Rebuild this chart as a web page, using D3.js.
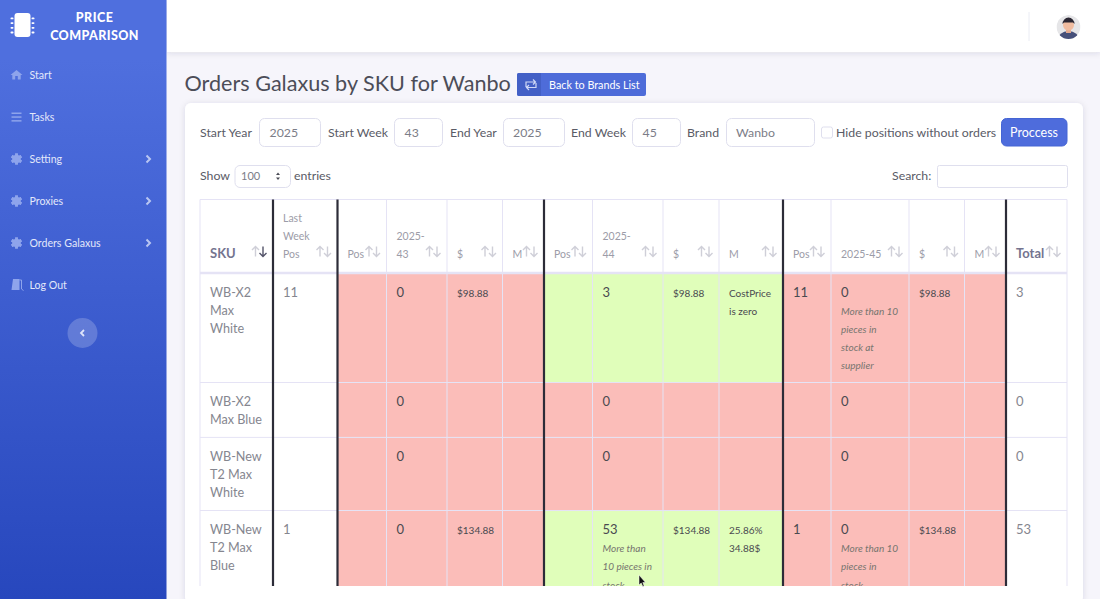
<!DOCTYPE html>
<html>
<head>
<meta charset="utf-8">
<title>Orders Galaxus by SKU for Wanbo</title>
<script src="https://cdn.jsdelivr.net/npm/d3@7"></script>
<style>
  html, body { margin: 0; padding: 0; background: #f6f5fb; overflow: hidden; }
  svg { display: block; font-family: Lato, "Open Sans", sans-serif; }
</style>
</head>
<body>
<svg id="page" width="1100" height="599"></svg>
<script>
// table data
const skuLines = [["WB-X2", "Max", "White"], ["WB-X2", "Max Blue"], ["WB-New", "T2 Max", "White"], ["WB-New", "T2 Max", "Blue"]]
const lastWeekPos = ["11", "", "", "1"]
const orders43 = ["0", "0", "0", "0"]
const price43 = ["$98.88", "", "", "$134.88"]
const orders44 = ["3", "0", "0", "53"]
const note44 = [[], [], [], ["More than", "10 pieces in", "stock"]]
const price44 = ["$98.88", "", "", "$134.88"]
const margin44 = [["CostPrice", "is zero"], [], [], ["25.86%", "34.88$"]]
const pos45 = ["11", "", "", "1"]
const orders45 = ["0", "0", "0", "0"]
const note45 = [["More than 10", "pieces in", "stock at", "supplier"], [], [], ["More than 10", "pieces in", "stock"]]
const price45 = ["$98.88", "", "", "$134.88"]
const totals = ["3", "0", "0", "53"]
const status43 = ["none", "none", "none", "none"]
const status44 = ["sold", "none", "none", "sold"]
const status45 = ["none", "none", "none", "none"]

const columnHeaders = [["SKU"], ["Last", "Week", "Pos"], ["Pos"], ["2025-", "43"], ["$"], ["M"], ["Pos"], ["2025-", "44"], ["$"], ["M"], ["Pos"], ["2025-45"], ["$"], ["M"], ["Total"]]
const columnWidths = [73, 64.5, 49, 60.5, 55.5, 41.5, 48.5, 70.5, 56, 64, 48, 78, 55.5, 41.5, 61]
const weekDividers = [1, 2, 6, 10, 14]
const menuItems = ["Start", "Tasks", "Setting", "Proxies", "Orders Galaxus", "Log Out"]
const menuIcons = ["home", "bars", "gear", "gear", "gear", "door"]
const menuHasArrow = [false, false, true, true, true, false]

const svg = d3.select("#page")
const defs = svg.append("defs")
const grad = defs.append("linearGradient").attr("id", "sideGrad").attr("x1", 0).attr("x2", 0).attr("y1", 0).attr("y2", 1)
grad.append("stop").attr("offset", "10%").attr("stop-color", "#4f6fde")
grad.append("stop").attr("offset", "100%").attr("stop-color", "#2747bd")
const shadow = defs.append("filter").attr("id", "soft").attr("x", "-5%").attr("y", "-20%").attr("width", "110%").attr("height", "150%")
shadow.append("feDropShadow").attr("dx", 0).attr("dy", 1).attr("stdDeviation", 3).attr("flood-color", "#3a3b45").attr("flood-opacity", 0.12)
defs.append("clipPath").attr("id", "tableClip").append("rect").attr("x", 190).attr("y", 190).attr("width", 885).attr("height", 396)

function label(g, x, y, txt, size, color, opts = {}) {
    return g.append("text")
        .attr("x", x).attr("y", y)
        .attr("font-size", size)
        .attr("fill", color)
        .attr("font-weight", opts.weight || 400)
        .attr("font-style", opts.italic ? "italic" : "normal")
        .attr("text-anchor", opts.anchor || "start")
        .attr("letter-spacing", opts.spacing || 0)
        .text(txt)
}

function box(g, x, y, w, h, fill, stroke, r = 5) {
    return g.append("rect").attr("x", x).attr("y", y).attr("width", w).attr("height", h)
        .attr("rx", r).attr("fill", fill).attr("stroke", stroke)
}

// ---- page frame
svg.append("rect").attr("x", 167).attr("width", 933).attr("height", 599).attr("fill", "#f6f5fb")
svg.append("rect").attr("x", 167).attr("width", 933).attr("height", 52).attr("fill", "#fff").attr("filter", "url(#soft)")
svg.append("line").attr("x1", 1029).attr("x2", 1029).attr("y1", 12).attr("y2", 41).attr("stroke", "#eaecf4")

// avatar
const avatar = svg.append("g").attr("transform", "translate(1068.5,27)")
avatar.append("clipPath").attr("id", "avatarClip").append("circle").attr("r", 12)
const avatarInner = avatar.append("g").attr("clip-path", "url(#avatarClip)")
avatarInner.append("circle").attr("r", 12).attr("fill", "#e6e6e8")
avatarInner.append("ellipse").attr("cy", 13).attr("rx", 11).attr("ry", 9).attr("fill", "#46507a")
avatarInner.append("rect").attr("x", -2.5).attr("y", 1).attr("width", 5).attr("height", 5).attr("fill", "#e2a98f")
avatarInner.append("circle").attr("cy", -2).attr("r", 5.5).attr("fill", "#f0bca0")
avatarInner.append("path").attr("d", "M-6,-3 A6,6.5 0 0 1 6,-3 L4.5,-4.5 L-4.5,-4.5 Z").attr("fill", "#2b2733")

// ---- sidebar
const side = svg.append("g")
side.append("rect").attr("width", 166.5).attr("height", 599).attr("fill", "url(#sideGrad)")

const chip = side.append("g").attr("fill", "#fff")
chip.append("rect").attr("x", 14.5).attr("y", 13).attr("width", 16).attr("height", 24).attr("rx", 3)
d3.range(4).forEach(i => {
    chip.append("rect").attr("x", 10.5).attr("y", 17.5 + i * 4.7).attr("width", 3).attr("height", 1.8).attr("rx", 0.9)
    chip.append("rect").attr("x", 31.5).attr("y", 17.5 + i * 4.7).attr("width", 3).attr("height", 1.8).attr("rx", 0.9)
})
label(side, 94.5, 21.5, "PRICE", 12.5, "#fff", { weight: 900, anchor: "middle", spacing: 0.5 })
label(side, 94.5, 39.5, "COMPARISON", 12.5, "#fff", { weight: 900, anchor: "middle", spacing: 0.4 })

function drawIcon(g, kind, cx, cy) {
    const c = "#8ea4ec"
    if (kind == "home") {
        g.append("path").attr("fill", c).attr("d", `M${cx - 6},${cy} L${cx},${cy - 5} L${cx + 6},${cy} L${cx + 4.2},${cy} L${cx + 4.2},${cy + 4.5} L${cx + 1.3},${cy + 4.5} L${cx + 1.3},${cy + 1} L${cx - 1.3},${cy + 1} L${cx - 1.3},${cy + 4.5} L${cx - 4.2},${cy + 4.5} L${cx - 4.2},${cy} Z`)
    } else if (kind == "bars") {
        d3.range(3).forEach(i => g.append("rect").attr("x", cx - 5).attr("y", cy - 4.5 + i * 3.8).attr("width", 10).attr("height", 1.5).attr("fill", c))
    } else if (kind == "gear") {
        d3.range(6).forEach(i => g.append("rect").attr("x", cx - 1.4).attr("y", cy - 5.5).attr("width", 2.8).attr("height", 11).attr("fill", c).attr("transform", `rotate(${i * 30 * 2} ${cx} ${cy})`))
        g.append("circle").attr("cx", cx).attr("cy", cy).attr("r", 3.2).attr("fill", "none").attr("stroke", c).attr("stroke-width", 2.2)
    } else {
        g.append("path").attr("fill", c).attr("d", `M${cx - 7},${cy + 5} L${cx - 5},${cy + 5} L${cx - 3.5},${cy - 6} L${cx + 3},${cy - 6} L${cx + 3},${cy + 5} Z`)
        g.append("path").attr("fill", "none").attr("stroke", c).attr("d", `M${cx + 3},${cy - 5} L${cx + 5},${cy - 5} L${cx + 5},${cy + 4} L${cx + 7},${cy + 5.5}`)
    }
}

const menuY = d3.scalePoint().domain(menuItems).range([75, 285])
menuItems.forEach((m, i) => {
    const y = menuY(m)
    drawIcon(side, menuIcons[i], 16.5, y)
    label(side, 29.5, y + 3.5, m, 10.6, "#e3e8fa")
    if (menuHasArrow[i]) {
        side.append("path").attr("d", `M146.5,${y - 3.5} L150,${y} L146.5,${y + 3.5}`).attr("fill", "none").attr("stroke", "#b9c6f2").attr("stroke-width", 2)
    }
})
side.append("circle").attr("cx", 82.5).attr("cy", 333).attr("r", 15).attr("fill", "#fff").attr("fill-opacity", 0.2)
side.append("path").attr("d", "M84,330 L81,333 L84,336").attr("fill", "none").attr("stroke", "#dfe5fa").attr("stroke-width", 1.8)

// ---- heading
label(svg, 184.5, 91, "Orders Galaxus by SKU for Wanbo", 21.6, "#4c4d58")
const back = svg.append("g")
box(back, 517, 73, 129, 23, "#4e6cd9", "none", 2)
back.append("path").attr("d", "M517,75 A2,2 0 0 1 519,73 L541,73 L541,96 L519,96 A2,2 0 0 1 517,94 Z").attr("fill", "#4360c6")
back.append("path").attr("d", "M526,87 L526,82 L535,82 M533,79.5 L535.5,82 L533,84.5 M536,83 L536,87.5 L527,87.5 M529,90 L526.5,87.5 L529,85").attr("fill", "none").attr("stroke", "#cfd8f6").attr("stroke-width", 1.2)
label(back, 549, 88.5, "Back to Brands List", 10.8, "#fff")

// ---- card
svg.append("rect").attr("x", 185).attr("y", 103).attr("width", 898).attr("height", 500).attr("rx", 6).attr("fill", "#fff").attr("filter", "url(#soft)")

// ---- filter form
const form = svg.append("g")
const textCol = "#5a5b66", inputCol = "#7c7d88", inputLine = "#dfdfee"
const formSize = 12.3
label(form, 200, 136.5, "Start Year", formSize, textCol)
box(form, 259.5, 118.5, 61, 28, "#fff", inputLine)
label(form, 269.5, 137, "2025", formSize, inputCol)
label(form, 328, 136.5, "Start Week", formSize, textCol)
box(form, 394.5, 118.5, 48, 28, "#fff", inputLine)
label(form, 404.5, 137, "43", formSize, inputCol)
label(form, 450, 136.5, "End Year", formSize, textCol)
box(form, 503.5, 118.5, 61, 28, "#fff", inputLine)
label(form, 513, 137, "2025", formSize, inputCol)
label(form, 571, 136.5, "End Week", formSize, textCol)
box(form, 632.5, 118.5, 48, 28, "#fff", inputLine)
label(form, 642.5, 137, "45", formSize, inputCol)
label(form, 687, 136.5, "Brand", formSize, textCol)
box(form, 726.5, 118.5, 88, 28, "#fff", inputLine)
label(form, 736, 137, "Wanbo", formSize, inputCol)
box(form, 821.5, 127, 11, 11, "#fff", inputLine, 2)
label(form, 836, 136.5, "Hide positions without orders", formSize, textCol)
box(form, 1001.5, 118.5, 65.5, 27.5, "#4e6cdc", "#4565d4")
label(form, 1034, 136.5, "Proccess", 12.5, "#fff", { anchor: "middle" })

label(form, 200, 179.5, "Show", formSize, textCol)
box(form, 235, 165.5, 55.5, 22, "#fff", inputLine)
label(form, 241, 180, "100", 11, inputCol)
form.append("path").attr("d", "M276,175 L278,172.5 L280,175 Z M276,177.5 L278,180 L280,177.5 Z").attr("fill", "#4a4b55")
label(form, 294, 179.5, "entries", formSize, textCol)
label(form, 892, 180, "Search:", formSize, textCol)
box(form, 937.5, 165.5, 130, 22, "#fff", inputLine, 2)

// ---- table
const colEdges = [200].concat(Array.from(d3.cumsum(columnWidths)).map(w => 200 + w))
const x = d3.scaleOrdinal().domain(d3.range(colEdges.length)).range(colEdges)
const lineH = 18.2
const headerTop = 199.5, headerBottom = 273
const rowLineCount = [5, 2, 3, 5]
const rowHeights = rowLineCount.map(n => n * lineH + 18.5)
const rowEdges = [headerBottom].concat(Array.from(d3.cumsum(rowHeights)).map(h => headerBottom + h))
const y = d3.scaleOrdinal().domain(d3.range(rowEdges.length)).range(rowEdges)
const cellFill = d3.scaleOrdinal().domain(["none", "sold"]).range(["#fbbdb9", "#e0feba"])
const lavender = "#e5e3f5"

const table = svg.append("g").attr("clip-path", "url(#tableClip)")
skuLines.forEach((_, r) => {
    const statusByWeek = [[2, status43[r]], [6, status44[r]], [10, status45[r]]]
    statusByWeek.forEach(([c, st]) => {
        table.append("rect").attr("x", x(c)).attr("y", y(r)).attr("width", x(c + 4) - x(c)).attr("height", y(r + 1) - y(r)).attr("fill", cellFill(st))
    })
})

// grid
colEdges.forEach((e, i) => {
    table.append("line").attr("x1", x(i)).attr("x2", x(i)).attr("y1", headerTop).attr("y2", 590).attr("stroke", lavender)
})
rowEdges.forEach((e, i) => {
    table.append("line").attr("x1", 200).attr("x2", 1067).attr("y1", y(i)).attr("y2", y(i)).attr("stroke", lavender)
})
table.append("line").attr("x1", 200).attr("x2", 1067).attr("y1", headerTop).attr("y2", headerTop).attr("stroke", lavender)
table.append("line").attr("x1", 200).attr("x2", 1067).attr("y1", headerBottom).attr("y2", headerBottom).attr("stroke", lavender).attr("stroke-width", 2.5)

function sortArrows(g, rx, active) {
    const up = "#cfcfd8", down = active ? "#54546a" : "#cfcfd8", cy = 251.5
    g.append("path").attr("d", `M${rx - 11},${cy + 5} L${rx - 11},${cy - 5} M${rx - 14.5},${cy - 1.5} L${rx - 11},${cy - 5} L${rx - 7.5},${cy - 1.5}`).attr("fill", "none").attr("stroke", up).attr("stroke-width", 1.4)
    g.append("path").attr("d", `M${rx - 3.5},${cy - 5} L${rx - 3.5},${cy + 5} M${rx - 7},${cy + 1.5} L${rx - 3.5},${cy + 5} L${rx},${cy + 1.5}`).attr("fill", "none").attr("stroke", down).attr("stroke-width", 1.4)
}

// headers
columnHeaders.forEach((lines, c) => {
    const bold = c == 0 || c == 14
    lines.forEach((t, i) => {
        label(table, x(c) + 10, 258 - (lines.length - 1 - i) * 17.8, t, bold ? 13 : 10.5,
            bold ? "#74748f" : "#9c9ca8", { weight: bold ? 700 : 400 })
    })
    sortArrows(table, x(c + 1) - 6.5, c == 0)
})

// body cells
const mainCol = "#4a4a50", grayCol = "#85868f", noteCol = "#77756f"
function cellLines(r, c, lines, size, color, opts) {
    lines.forEach((t, i) => label(table, x(c) + 10, y(r) + 23.5 + i * lineH, t, size, color, opts))
}
skuLines.forEach((lines, r) => {
    cellLines(r, 0, lines, 12.6, grayCol)
    if (lastWeekPos[r]) cellLines(r, 1, [lastWeekPos[r]], 13, grayCol)
    cellLines(r, 3, [orders43[r]], 13, mainCol)
    if (price43[r]) cellLines(r, 4, [price43[r]], 10, mainCol)
    cellLines(r, 7, [orders44[r]], 13, mainCol)
    note44[r].forEach((t, i) => label(table, x(7) + 10, y(r) + 23.5 + (i + 1) * lineH, t, 10, noteCol, { italic: true }))
    if (price44[r]) cellLines(r, 8, [price44[r]], 10, mainCol)
    cellLines(r, 9, margin44[r], 10, mainCol)
    if (pos45[r]) cellLines(r, 10, [pos45[r]], 13, mainCol)
    cellLines(r, 11, [orders45[r]], 13, mainCol)
    note45[r].forEach((t, i) => label(table, x(11) + 10, y(r) + 23.5 + (i + 1) * lineH, t, 10, noteCol, { italic: true }))
    if (price45[r]) cellLines(r, 12, [price45[r]], 10, mainCol)
    cellLines(r, 14, [totals[r]], 13, grayCol)
})

// heavy week dividers
weekDividers.forEach(c => {
    table.append("line").attr("x1", x(c)).attr("x2", x(c)).attr("y1", headerTop).attr("y2", 590).attr("stroke", "#2c2c38").attr("stroke-width", 2.2)
})

// mouse pointer left in the capture
svg.append("path").attr("d", "M639,575 L639,585 L641.2,583 L642.8,586.5 L644.2,586 L642.8,582.5 L645.5,582.5 Z").attr("fill", "#111").attr("stroke", "#fff").attr("stroke-width", 0.5)
</script>
</body>
</html>
